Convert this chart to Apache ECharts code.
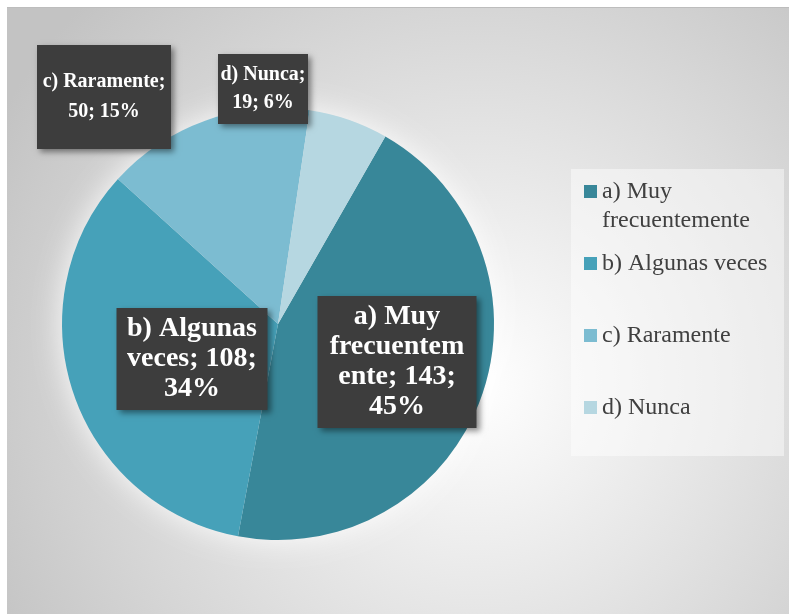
<!DOCTYPE html>
<html>
<head>
<meta charset="utf-8">
<script src="https://cdn.jsdelivr.net/npm/echarts@6/dist/echarts.min.js"></script>
<style>
  html, body { margin: 0; padding: 0; background: #ffffff; }
  #main { width: 789px; height: 614px; }
</style>
</head>
<body>
<div id="main"></div>
<script>
// categorías y valores del gráfico
const categories = ['a) Muy frecuentemente', 'b) Algunas veces', 'c) Raramente', 'd) Nunca'];
const values = [143, 108, 50, 19];
const percents = [45, 34, 15, 6];
const colors = ['#388799', '#46a1b9', '#7cbcd1', '#b6d7e1'];

// centro de cada etiqueta (px) y su estilo
const labelCenters = [[397, 362], [192, 359], [104, 97], [263, 89]];
const labelStyles = [
    { width: 145, padding: [6, 7], fontSize: 28, fontWeight: 'bold', lineHeight: 30 },
    { width: 141, padding: [6, 5], fontSize: 28, fontWeight: 'bold', lineHeight: 30 },
    { width: 124, padding: [25, 5, 19, 5], fontSize: 20, fontWeight: 'bold', lineHeight: 30 },
    { width: 86, padding: [11, 2, 3, 2], fontSize: 20, fontWeight: 'bold', lineHeight: 28 }
];

const serifName = 'Liberation Serif';
const serif = '"Liberation Serif", "DejaVu Serif", serif';

// ajuste de línea como en Excel: por palabras, y cortando palabras demasiado largas
const measureCtx = document.createElement('canvas').getContext('2d');
function wrapText(text, font, maxWidth) {
    measureCtx.font = font;
    const w = s => measureCtx.measureText(s).width;
    const lines = [];
    let line = '';
    text.split(' ').forEach(word => {
        const test = line ? line + ' ' + word : word;
        if (w(test) <= maxWidth) {
            line = test;
            return;
        }
        if (line) lines.push(line);
        line = '';
        let rest = word;
        while (w(rest) > maxWidth) {
            let k = 1;
            while (k < rest.length && w(rest.slice(0, k + 1)) <= maxWidth) k++;
            lines.push(rest.slice(0, k));
            rest = rest.slice(k);
        }
        line = rest;
    });
    if (line) lines.push(line);
    return lines.join('\n');
}

const total = values.reduce((s, v) => s + v, 0);

const myChart = echarts.init(document.getElementById('main'));

const pieData = categories.map((name, i) => {
    const st = labelStyles[i];
    const font = st.fontWeight + ' ' + st.fontSize + 'px "' + serifName + '"';
    return {
        name: name,
        value: values[i],
        itemStyle: { color: colors[i] },
        label: Object.assign({
            overflow: 'none',
            formatter: wrapText(name + '; ' + values[i] + '; ' + percents[i] + '%', font, st.width)
        }, st)
    };
});

const option = {
    animation: false,
    graphic: [
        {
            type: 'rect',
            z: -10,
            shape: { x: 7, y: 7, width: 782, height: 607 },
            style: {
                fill: new echarts.graphic.RadialGradient(0.6, 0.62, 0.9, [
                    { offset: 0, color: '#ffffff' },
                    { offset: 1, color: '#c3c3c3' }
                ]),
                stroke: null
            }
        },
        {
            type: 'line',
            z: -9,
            shape: { x1: 7, y1: 7.5, x2: 789, y2: 7.5 },
            style: { stroke: '#bdbdbd', lineWidth: 1 }
        },
        {
            type: 'rect',
            z: -8,
            shape: { x: 571, y: 169, width: 213, height: 287 },
            style: { fill: 'rgba(255,255,255,0.45)' }
        }
    ],
    legend: [
        {
            // primera entrada: dos líneas, el cuadro alineado con la primera
            orient: 'vertical',
            left: 584,
            top: 177,
            padding: 0,
            itemWidth: 13,
            itemHeight: 44,
            data: [{ name: categories[0], icon: 'path://M0,0 M0,1h13v13h-13z M0,44' }],
            textStyle: {
                fontFamily: serif,
                fontSize: 24,
                lineHeight: 29,
                color: '#404040',
                width: 175,
                overflow: 'break'
            }
        },
        {
            orient: 'vertical',
            left: 584,
            top: 249,
            padding: 0,
            itemWidth: 13,
            itemHeight: 13,
            itemGap: 43,
            icon: 'rect',
            data: categories.slice(1),
            textStyle: {
                fontFamily: serif,
                fontSize: 24,
                lineHeight: 29,
                color: '#404040'
            }
        }
    ],
    series: [
        {
            // halo claro detrás del pastel
            type: 'pie',
            silent: true,
            z: 1,
            center: [278, 324],
            radius: 216,
            label: { show: false },
            labelLine: { show: false },
            itemStyle: {
                color: '#e8e8e8',
                shadowBlur: 30,
                shadowColor: 'rgba(255,255,255,0.9)'
            },
            data: [{ name: 'total', value: total }]
        },
        {
            type: 'pie',
            z: 2,
            center: [278, 324],
            radius: 216,
            startAngle: 60.2,
            clockwise: true,
            data: pieData,
            labelLine: { show: false },
            label: {
                show: true,
                position: 'inside',
                fontFamily: serif,
                color: '#ffffff',
                align: 'center',
                verticalAlign: 'middle',
                backgroundColor: '#3d3d3d',
                shadowBlur: 6,
                shadowOffsetX: 3,
                shadowOffsetY: 3,
                shadowColor: 'rgba(0,0,0,0.45)'
            },
            labelLayout: function (params) {
                const c = labelCenters[params.dataIndex];
                return { x: c[0], y: c[1] };
            },
            emphasis: { disabled: true }
        }
    ]
};

myChart.setOption(option);
</script>
</body>
</html>
